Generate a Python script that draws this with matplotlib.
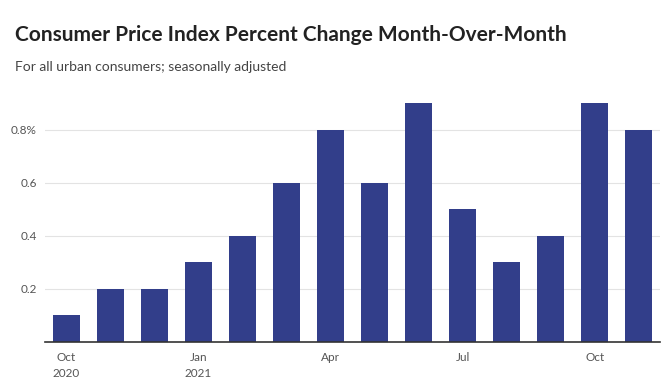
import matplotlib.pyplot as plt

months = ["Oct", "Nov", "Dec", "Jan", "Feb", "Mar", "Apr", "May", "Jun", "Jul", "Aug", "Sep", "Oct", "Nov"]
cpi_change = [0.1, 0.2, 0.2, 0.3, 0.4, 0.6, 0.8, 0.6, 0.9, 0.5, 0.3, 0.4, 0.9, 0.8]
tick_pos = [0, 3, 6, 9, 12]
tick_labels = ["Oct\n2020", "Jan\n2021", "Apr", "Jul", "Oct"]
y_ticks = [0.2, 0.4, 0.6, 0.8]
y_labels = ["0.2", "0.4", "0.6", "0.8%"]

plt.rcParams["font.family"] = ["Lato", "DejaVu Sans"]

W, H = 671, 390
fig = plt.figure(figsize=(W / 100, H / 100), dpi=100)
ax = fig.add_axes([45 / W, 48 / H, (660 - 45) / W, (343 - 104) / H])

x = list(range(len(cpi_change)))
ax.bar(x, cpi_change, width=0.61, color="#323e8a", zorder=3)

ax.set_xlim(-0.48, len(x) - 1 + 0.48)
ax.set_ylim(0, 0.9)
ax.set_yticks(y_ticks)
ax.set_yticklabels(y_labels)
ax.set_xticks(tick_pos)
ax.set_xticklabels(tick_labels, linespacing=1.6)
ax.tick_params(axis="both", length=0, labelsize=8.5, labelcolor="#555555")
ax.tick_params(axis="x", pad=7)
ax.tick_params(axis="y", pad=6)
ax.grid(axis="y", color="#e3e3e3", linewidth=0.8, zorder=0)

for s in ["top", "right", "left"]:
    ax.spines[s].set_visible(False)
ax.spines["bottom"].set_color("#333333")
ax.spines["bottom"].set_linewidth(1.2)
ax.spines["bottom"].set_zorder(4)

fig.text(15 / W, 1 - 35 / H, "Consumer Price Index Percent Change Month-Over-Month",
         fontsize=15, fontweight="bold", color="#222222", va="center")
fig.text(15 / W, 1 - 67 / H, "For all urban consumers; seasonally adjusted",
         fontsize=10, color="#444444", va="center")

fig.savefig("out.png", dpi=100)
